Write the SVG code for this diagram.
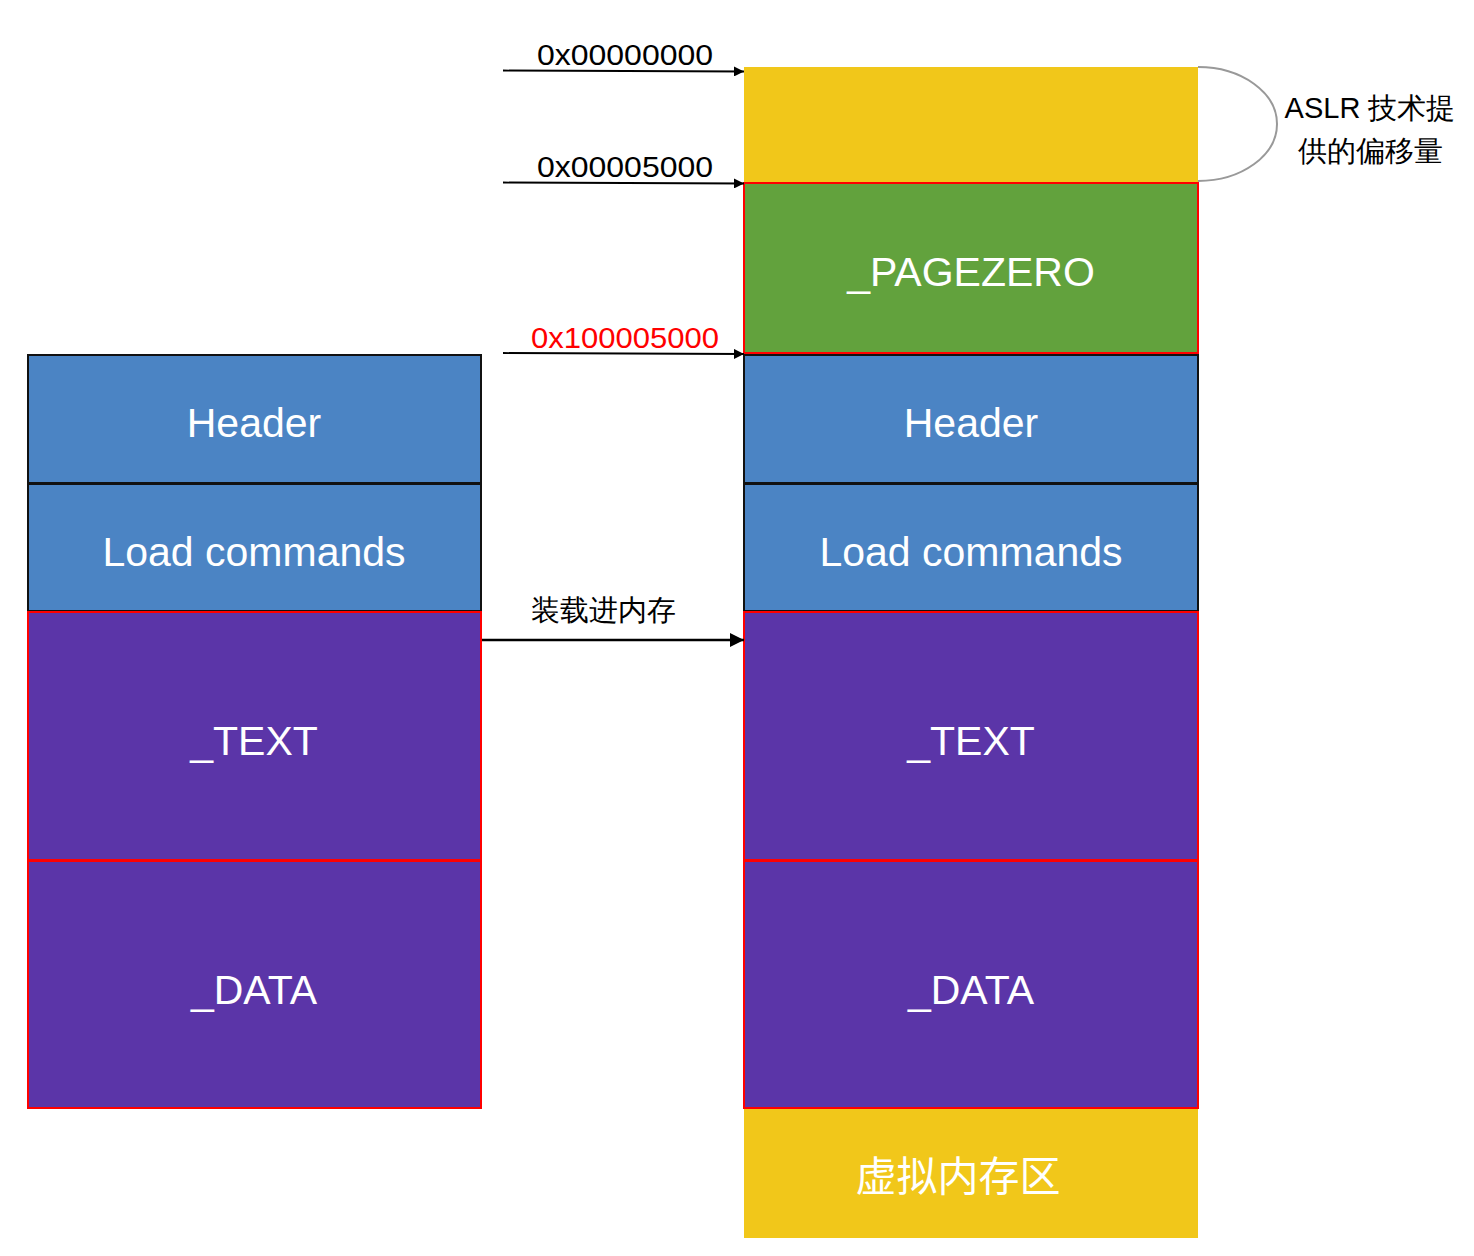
<svg xmlns="http://www.w3.org/2000/svg" width="1474" height="1256" viewBox="0 0 1474 1256">
<style>
.lbl{font-family:"Liberation Sans","Noto Sans CJK SC",sans-serif;font-size:41px;fill:#fff;text-anchor:middle}
.cjk{font-family:"Noto Sans CJK SC","Liberation Sans",sans-serif}
.addr{font-family:"Liberation Sans",sans-serif;font-size:29px;fill:#000;text-anchor:middle}
.blue{fill:#4B84C4;stroke:#111;stroke-width:2}
.purple{fill:#5B35A8;stroke:#FF0000;stroke-width:2}
.green{fill:#62A23D;stroke:#FF0000;stroke-width:2}
.yellow{fill:#F1C71A}
.conn{stroke:#000;fill:none}
</style>
<defs>
<marker id="ah" viewBox="0 0 10 10" refX="10" refY="5" markerWidth="10" markerHeight="10" markerUnits="userSpaceOnUse" orient="auto"><path d="M0,0 L10,5 L0,10 Z" fill="#000"/></marker>
<marker id="ahb" viewBox="0 0 10 10" refX="10" refY="5" markerWidth="14" markerHeight="14" markerUnits="userSpaceOnUse" orient="auto"><path d="M0,0 L10,5 L0,10 Z" fill="#000"/></marker>
</defs>
<rect width="1474" height="1256" fill="#fff"/>

<g id="left-header"><rect class="blue" x="28" y="355" width="453" height="128"/><text class="lbl" x="254" y="437">Header</text></g>
<g id="left-load"><rect class="blue" x="28" y="484" width="453" height="127"/><text class="lbl" x="254" y="566">Load commands</text></g>
<g id="left-text"><rect class="purple" x="28" y="612" width="453" height="248"/><text class="lbl" x="254" y="755">_TEXT</text></g>
<g id="left-data"><rect class="purple" x="28" y="861" width="453" height="247"/><text class="lbl" x="254" y="1004">_DATA</text></g>

<g id="right-aslr-space"><rect class="yellow" x="744" y="67" width="454" height="116"/></g>
<g id="right-pagezero"><rect class="green" x="744" y="183" width="454" height="170"/><text class="lbl" x="971" y="286">_PAGEZERO</text></g>
<g id="right-header"><rect class="blue" x="744" y="355" width="454" height="128"/><text class="lbl" x="971" y="437">Header</text></g>
<g id="right-load"><rect class="blue" x="744" y="484" width="454" height="127"/><text class="lbl" x="971" y="566">Load commands</text></g>
<g id="right-text"><rect class="purple" x="744" y="612" width="454" height="248"/><text class="lbl" x="971" y="755">_TEXT</text></g>
<g id="right-data"><rect class="purple" x="744" y="861" width="454" height="247"/><text class="lbl" x="971" y="1004">_DATA</text></g>
<g id="right-vm"><rect class="yellow" x="744" y="1109" width="454" height="129"/><text class="lbl cjk" x="958" y="1191" font-size="40">虚拟内存区</text></g>

<g id="aslr-label">
<text class="addr cjk" x="1370" y="118" font-size="29">ASLR 技术提</text>
<text class="addr cjk" x="1370" y="161" font-size="29">供的偏移量</text>
</g>

<g id="connectors">
<path d="M1198,67 A79,57 0 0 1 1198,181" fill="none" stroke="#999" stroke-width="2"/>
<line class="conn" x1="503" y1="70.5" x2="744" y2="71.5" stroke-width="1.8" marker-end="url(#ah)"/>
<line class="conn" x1="503" y1="182.5" x2="744" y2="183.5" stroke-width="1.8" marker-end="url(#ah)"/>
<line class="conn" x1="503" y1="353" x2="744" y2="354" stroke-width="1.8" marker-end="url(#ah)"/>
<line class="conn" x1="482" y1="640" x2="744" y2="640" stroke-width="2.5" marker-end="url(#ahb)"/>
<text class="addr" x="625" y="65" textLength="176" lengthAdjust="spacingAndGlyphs">0x00000000</text>
<text class="addr" x="625" y="177" textLength="176" lengthAdjust="spacingAndGlyphs">0x00005000</text>
<text class="addr" x="625" y="348" style="fill:#FF0000" textLength="188" lengthAdjust="spacingAndGlyphs">0x100005000</text>
<text class="addr cjk" x="603" y="620" font-size="29">装载进内存</text>
</g>
</svg>
